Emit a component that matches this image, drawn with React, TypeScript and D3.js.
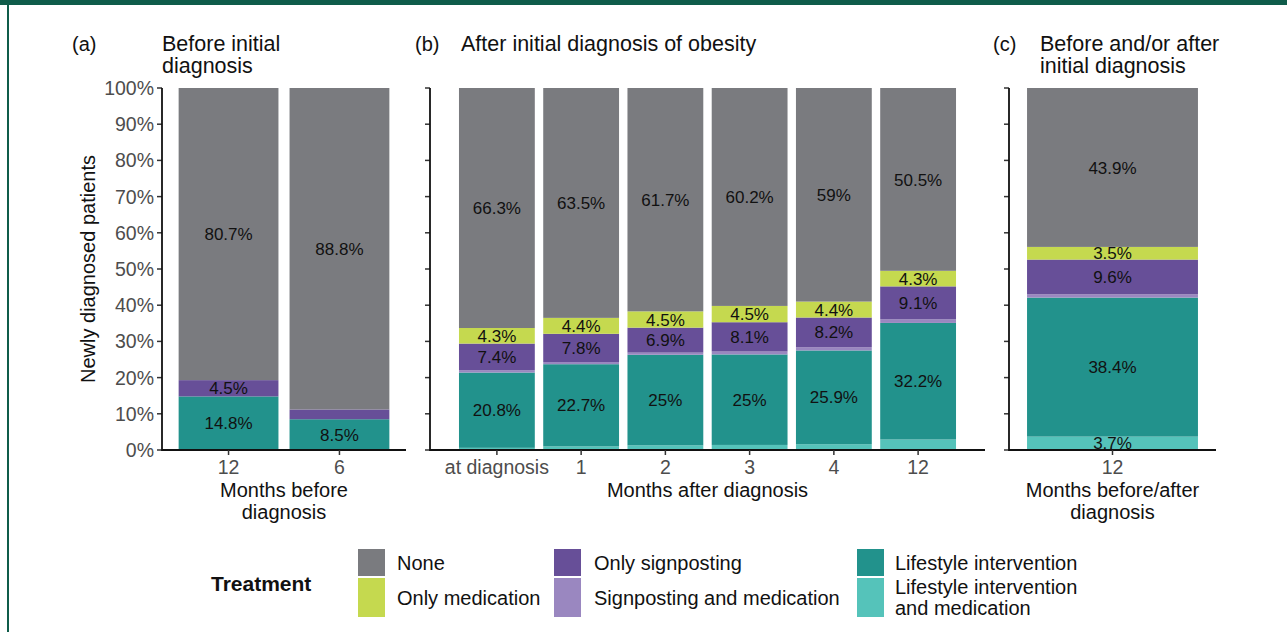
import * as d3 from "d3";

// stack order, bottom to top
const seriesKeys = ["lifeMed", "life", "signMed", "sign", "med", "none"];
const seriesColors: Record<string, string> = {
  none: "#7a7b7f",
  med: "#c5d94f",
  sign: "#674f98",
  signMed: "#9a87c0",
  life: "#22928c",
  lifeMed: "#55c3ba",
};

// panel (a) before initial diagnosis
const catsA = ["12", "6"];
const noneA = [80.7, 88.8];
const medA = [0, 0];
const signA = [4.5, 2.7];
const signMedA = [0, 0];
const lifeA = [14.8, 8.5];
const lifeMedA = [0, 0];

// panel (b) after initial diagnosis
const catsB = ["at diagnosis", "1", "2", "3", "4", "12"];
const noneB = [66.3, 63.5, 61.7, 60.2, 59, 50.5];
const medB = [4.3, 4.4, 4.5, 4.5, 4.4, 4.3];
const signB = [7.4, 7.8, 6.9, 8.1, 8.2, 9.1];
const signMedB = [0.6, 0.6, 0.6, 0.8, 0.9, 1.0];
const lifeB = [20.8, 22.7, 25, 25, 25.9, 32.2];
const lifeMedB = [0.6, 1.0, 1.3, 1.4, 1.6, 2.9];

// panel (c) before and/or after
const catsC = ["12"];
const noneC = [43.9];
const medC = [3.5];
const signC = [9.6];
const signMedC = [0.9];
const lifeC = [38.4];
const lifeMedC = [3.7];

const yTicks = [0, 10, 20, 30, 40, 50, 60, 70, 80, 90, 100];

const legendCols = [
  [{ key: "none", lines: ["None"] }, { key: "med", lines: ["Only medication"] }],
  [{ key: "sign", lines: ["Only signposting"] }, { key: "signMed", lines: ["Signposting and medication"] }],
  [{ key: "life", lines: ["Lifestyle intervention"] }, { key: "lifeMed", lines: ["Lifestyle intervention", "and medication"] }],
];

const font = "'Liberation Sans', Arial, Helvetica, sans-serif";

function rows(cats, none, med, sign, signMed, life, lifeMed) {
  return cats.map((c, i) => ({
    cat: c, none: none[i], med: med[i], sign: sign[i],
    signMed: signMed[i], life: life[i], lifeMed: lifeMed[i],
  }));
}

const panels = [
  {
    letter: "(a)", letterX: 72, titleX: 162, title: ["Before initial", "diagnosis"],
    data: rows(catsA, noneA, medA, signA, signMedA, lifeA, lifeMedA),
    range: [162, 406], padOuter: 0.15, xTitle: ["Months before", "diagnosis"], yLabels: true,
  },
  {
    letter: "(b)", letterX: 415, titleX: 461, title: ["After initial diagnosis of obesity"],
    data: rows(catsB, noneB, medB, signB, signMedB, lifeB, lifeMedB),
    range: [430, 985], padOuter: 0.344, xTitle: ["Months after diagnosis"], yLabels: false,
  },
  {
    letter: "(c)", letterX: 993, titleX: 1040, title: ["Before and/or after", "initial diagnosis"],
    data: rows(catsC, noneC, medC, signC, signMedC, lifeC, lifeMedC),
    range: [1009, 1216], padOuter: 0.095, xTitle: ["Months before/after", "diagnosis"], yLabels: false,
  },
];

const y = d3.scaleLinear().domain([0, 100]).range([450, 88]);

function Panel({ p }) {
  const x = d3.scaleBand()
    .domain(p.data.map(d => d.cat))
    .range(p.range)
    .paddingInner(0.1)
    .paddingOuter(p.padOuter);
  const stacked = d3.stack().keys(seriesKeys)(p.data);
  const x0 = p.range[0];
  const mid = (p.range[0] + p.range[1]) / 2;
  return (
    <g>
      <text x={p.letterX} y={51} fontSize={20} fill="#111">{p.letter}</text>
      {p.title.map((t, i) => (
        <text key={i} x={p.titleX} y={51 + i * 22} fontSize={21.5} fill="#111">{t}</text>
      ))}
      {stacked.map(s => (
        <g key={s.key}>
          {s.map((d, i) => (
            <rect key={i} x={x(d.data.cat)} width={x.bandwidth()}
              y={y(d[1])} height={y(d[0]) - y(d[1])} fill={seriesColors[s.key]} />
          ))}
        </g>
      ))}
      {stacked.map(s => (
        <g key={"l" + s.key}>
          {s.map((d, i) => {
            const v = d[1] - d[0];
            if (v < 3) return null;
            return (
              <text key={i} x={x(d.data.cat) + x.bandwidth() / 2} y={y((d[0] + d[1]) / 2)}
                dy="0.36em" textAnchor="middle" fontSize={17} fill="#111">
                {`${d.data[s.key]}%`}
              </text>
            );
          })}
        </g>
      ))}
      {yTicks.map(t => (
        <g key={t}>
          <line x1={x0 - 5} x2={x0} y1={y(t)} y2={y(t)} stroke="#333" strokeWidth={1.5} />
          {p.yLabels && (
            <text x={x0 - 8} y={y(t)} dy="0.36em" textAnchor="end" fontSize={19.5} fill="#4d4d4d">{`${t}%`}</text>
          )}
        </g>
      ))}
      <line x1={x0} x2={x0} y1={y(100)} y2={y(0) + 1} stroke="#111" strokeWidth={1.8} />
      <line x1={x0} x2={p.range[1]} y1={y(0)} y2={y(0)} stroke="#111" strokeWidth={1.8} />
      {p.data.map(d => (
        <g key={d.cat}>
          <line x1={x(d.cat) + x.bandwidth() / 2} x2={x(d.cat) + x.bandwidth() / 2}
            y1={y(0)} y2={y(0) + 5} stroke="#333" strokeWidth={1.5} />
          <text x={x(d.cat) + x.bandwidth() / 2} y={474} textAnchor="middle" fontSize={19.5} fill="#4d4d4d">{d.cat}</text>
        </g>
      ))}
      {p.xTitle.map((t, i) => (
        <text key={i} x={mid} y={497 + i * 22} textAnchor="middle" fontSize={20} fill="#111">{t}</text>
      ))}
    </g>
  );
}

function Legend() {
  const keyX = [358, 554, 857];
  const textX = [397, 594, 895];
  const rowY = [549, 578];
  const rowH = [27, 39];
  return (
    <g>
      <text x={211} y={591} fontSize={21} fontWeight="bold" fill="#111">Treatment</text>
      {legendCols.map((col, ci) => col.map((item, ri) => {
        const cy = rowY[ri] + rowH[ri] / 2;
        const n = item.lines.length;
        return (
          <g key={item.key}>
            <rect x={keyX[ci]} y={rowY[ri]} width={27} height={rowH[ri]} fill={seriesColors[item.key]} />
            {item.lines.map((l, li) => (
              <text key={li} x={textX[ci]} y={cy + (li - (n - 1) / 2) * 21} dy="0.36em" fontSize={20} fill="#111">{l}</text>
            ))}
          </g>
        );
      }))}
    </g>
  );
}

export default function App() {
  return (
    <div style={{ position: "fixed", left: 0, top: 0 }}>
      <svg width={1287} height={632} style={{ display: "block", fontFamily: font }}>
        <rect width={1287} height={632} fill="#fff" />
        <rect x={0} y={0} width={1287} height={5} fill="#0f5c4a" />
        <rect x={7} y={0} width={2} height={632} fill="#0f5c4a" />
        <text transform="translate(95,269) rotate(-90)" textAnchor="middle" fontSize={20} fill="#111">
          Newly diagnosed patients
        </text>
        {panels.map(p => <Panel key={p.letter} p={p} />)}
        <Legend />
      </svg>
    </div>
  );
}
